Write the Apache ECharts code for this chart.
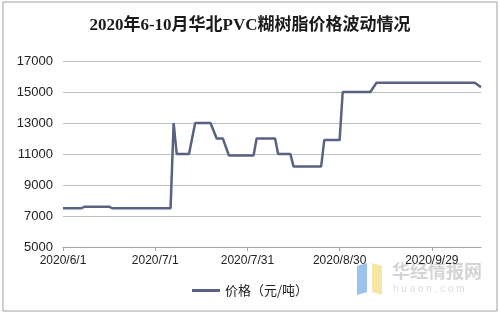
<!DOCTYPE html>
<html><head><meta charset="utf-8">
<script src="https://cdn.jsdelivr.net/npm/echarts@6/dist/echarts.min.js"></script>
<style>html,body{margin:0;padding:0;background:#fff}#c{width:500px;height:314px}</style>
</head><body><div id="c"></div>
<script>
const titleText = '2020年6-10月华北PVC糊树脂价格波动情况';
const seriesName = '价格（元/吨）';
const startDate = '2020-06-01';
const dates = ['2020-06-01','2020-06-07','2020-06-08','2020-06-16','2020-06-17','2020-07-06','2020-07-07','2020-07-08','2020-07-12','2020-07-14','2020-07-19','2020-07-21','2020-07-23','2020-07-25','2020-08-02','2020-08-03','2020-08-09','2020-08-10','2020-08-14','2020-08-15','2020-08-24','2020-08-25','2020-08-30','2020-08-31','2020-09-09','2020-09-11','2020-10-13','2020-10-15'];
const prices = [7500,7500,7600,7600,7500,7500,13000,11000,11000,13000,13000,12000,12000,10900,10900,12000,12000,11000,11000,10200,10200,11900,11900,15000,15000,15600,15600,15300];
const yTicks = [5000,7000,9000,11000,13000,15000,17000];
const endDate = '2020-10-15';

const DAY = 86400000;
function utc(s){const p=s.split('-').map(Number);return Date.UTC(p[0],p[1]-1,p[2]);}
function toDay(s){return (utc(s)-utc(startDate))/DAY;}
function fmt(d){const t=new Date(utc(startDate)+d*DAY);return t.getUTCFullYear()+'/'+(t.getUTCMonth()+1)+'/'+t.getUTCDate();}
const data = dates.map((d,i)=>[toDay(d),prices[i]]);

const chart = echarts.init(document.getElementById('c'));
chart.setOption({
  animation:false,
  title:{text:titleText,left:'center',top:12,textStyle:{fontFamily:'Liberation Serif, "Noto Sans CJK SC", serif',fontSize:17,fontWeight:'bold',color:'#1a1a1a'}},
  grid:{left:63,right:19,top:61,bottom:67},
  legend:{bottom:12,left:'center',itemWidth:28,itemHeight:3,icon:'rect',itemGap:4,
    textStyle:{fontFamily:'"Noto Sans CJK SC", sans-serif',fontSize:13,color:'#222'},data:[seriesName]},
  xAxis:{type:'value',min:0,max:toDay(endDate),interval:30,
    axisLine:{lineStyle:{color:'#a6a6a6'}},axisTick:{show:true,length:4,lineStyle:{color:'#a6a6a6'}},
    splitLine:{show:false},
    axisLabel:{formatter:v=>fmt(v),margin:8,fontFamily:'"Liberation Sans", Arial, sans-serif',fontSize:12,color:'#222',showMaxLabel:false}},
  yAxis:{type:'value',min:yTicks[0],max:yTicks[yTicks.length-1],interval:2000,
    axisLine:{show:false},axisTick:{show:false},
    splitLine:{lineStyle:{color:'#bfbfbf'}},
    axisLabel:{formatter:v=>String(v),margin:10,fontFamily:'"Liberation Sans", Arial, sans-serif',fontSize:13,color:'#222'}},
  graphic:[
    {type:'rect',shape:{x:3,y:2,width:494,height:309},style:{fill:'none',stroke:'#a0a0a0',lineWidth:1},silent:true},
    {type:'polygon',shape:{points:[[357,266],[367,263],[367,292],[357,295]]},style:{fill:'#9cc3ee'},silent:true},
    {type:'polygon',shape:{points:[[372,263],[382,266],[382,295],[372,292]]},style:{fill:'#f6e6a6'},silent:true},
    {type:'text',x:392,y:262,style:{text:'华经情报网',fontSize:18,fontWeight:'bold',fill:'#d4d4d4',fontFamily:'"Noto Sans CJK SC", sans-serif'},silent:true},
    {type:'text',x:393,y:284,style:{text:'h u a o n . c o m',fontSize:10,fill:'#dcdcdc',fontFamily:'"Liberation Sans", sans-serif'},silent:true}
  ],
  series:[{name:seriesName,type:'line',data:data,showSymbol:false,symbol:'none',
    lineStyle:{color:'#5a6282',width:2.5},itemStyle:{color:'#5a6282'}}]
});
</script></body></html>
